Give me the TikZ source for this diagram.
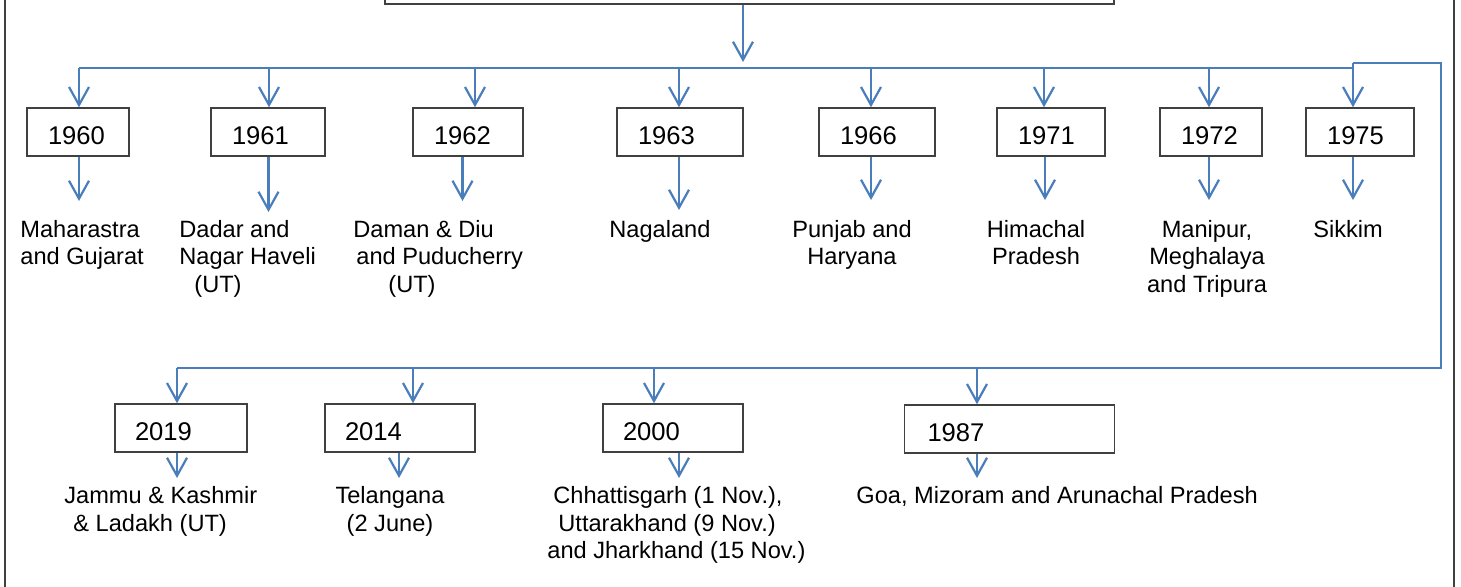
\documentclass[tikz,border=0pt]{standalone}
\usepackage{fontspec}
\setmainfont{Liberation Sans}
\usetikzlibrary{arrows.meta}
\definecolor{bluec}{HTML}{4A7EBB}
\definecolor{edgec}{HTML}{404040}
\begin{document}
\begin{tikzpicture}[x=0.5pt,y=-0.5pt,
  yearbox/.style={draw=edgec, line width=0.75pt, minimum height=24pt, inner xsep=10.5pt, inner ysep=0pt, align=left, text height=12.2pt, text depth=0pt, font=\fontsize{12.8pt}{15pt}\selectfont},
  lbl/.style={inner sep=0pt, font=\fontsize{11.8pt}{13.75pt}\selectfont},
  conn/.style={draw=bluec, line width=1.1pt},
  arr/.style={conn, -{Straight Barb[length=9pt,width=10pt]}}]
\useasboundingbox (0,0) rectangle (1461,587);
\clip (0,0) rectangle (1461,587);
% outer frame
\draw[edgec, line width=0.8pt] (5,-20) rectangle (1454,610);
% top box
\node[draw=edgec, line width=0.75pt, minimum width=364.5pt, minimum height=30pt, inner sep=0pt] (top) at (749.5,-26) {};
% top row year boxes
\node[yearbox,text width=30pt] (y1960) at (78,132) {1960};
\node[yearbox,text width=36pt] (y1961) at (268,132) {1961};
\node[yearbox,text width=34pt] (y1962) at (468,132) {1962};
\node[yearbox,text width=42pt] (y1963) at (680,132) {1963};
\node[yearbox,text width=37pt] (y1966) at (877,132) {1966};
\node[yearbox,text width=33pt] (y1971) at (1051,132) {1971};
\node[yearbox,text width=30pt] (y1972) at (1211,132) {1972};
\node[yearbox,text width=33pt] (y1975) at (1360,132) {1975};
% bottom row year boxes
\node[yearbox,text width=46pt,inner xsep=10pt] (y2019) at (181,428) {2019};
\node[yearbox,text width=55pt,inner xsep=10pt] (y2014) at (400,428) {2014};
\node[yearbox,text width=50pt,inner xsep=10pt] (y2000) at (673,428) {2000};
\node[yearbox,text width=82pt,inner xsep=11.5pt] (y1987) at (1009.5,429) {1987};
% labels top row
\node[lbl,anchor=north west,align=left] (l1960) at (20,217) {\rule{0pt}{10pt}Maharastra\\and Gujarat};
\node[lbl,anchor=north west,align=left] (l1961) at (179,217) {\rule{0pt}{10pt}Dadar and\\Nagar Haveli\\\hspace*{7.5pt}(UT)};
\node[lbl,anchor=north west,align=left] (l1962) at (353,217) {\rule{0pt}{10pt}Daman \& Diu\\\hspace*{1.5pt}and Puducherry\\\hspace*{17.5pt}(UT)};
\node[lbl,anchor=north west,align=left] (l1963) at (609,217) {\rule{0pt}{10pt}Nagaland};
\node[lbl,anchor=north,align=center] (l1966) at (852,217) {\rule{0pt}{10pt}Punjab and\\Haryana};
\node[lbl,anchor=north,align=center] (l1971) at (1036,217) {\rule{0pt}{10pt}Himachal\\Pradesh};
\node[lbl,anchor=north,align=center] (l1972) at (1207,217) {\rule{0pt}{10pt}Manipur,\\Meghalaya\\and Tripura};
\node[lbl,anchor=north west,align=left] (l1975) at (1313,217) {\rule{0pt}{10pt}Sikkim};
% labels bottom row
\node[lbl,anchor=north west,align=left] (l2019) at (64,483.5) {\rule{0pt}{10pt}Jammu \& Kashmir\\\hspace*{4.5pt}\& Ladakh (UT)};
\node[lbl,anchor=north,align=center] (l2014) at (390,483.5) {\rule{0pt}{10pt}Telangana\\(2 June)};
\node[lbl,anchor=north west,align=left] (l2000) at (547,483.5) {\rule{0pt}{10pt}\hspace*{3pt}Chhattisgarh (1 Nov.),\\\hspace*{5.5pt}Uttarakhand (9 Nov.)\\and Jharkhand (15 Nov.)};
\node[lbl,anchor=north west,align=left] (l1987) at (856,483.5) {\rule{0pt}{10pt}Goa, Mizoram and Arunachal Pradesh};
% main arrow
\coordinate (mainTip) at (743,62);
\draw[arr] (top.south -| mainTip) -- (mainTip);
% top bus
\coordinate (s1) at (79,68);
\coordinate (s2) at (269,68);
\coordinate (s3) at (475,68);
\coordinate (s4) at (679,68);
\coordinate (s5) at (871,68);
\coordinate (s6) at (1044,68);
\coordinate (s7) at (1209,68);
\coordinate (s8) at (1353,68);
\coordinate (r0) at (1353,63);
\coordinate (r1) at (1441,63);
\coordinate (r2) at (1441,368);
\coordinate (d1) at (177,368);
\coordinate (d2) at (413,368);
\coordinate (d3) at (654,368);
\coordinate (d4) at (977,368);
\draw[conn] (s1) -- (s8);
\draw[conn] (r0) -- (r1) -- (r2) -- (d1);
\draw[arr] (s1) -- (s1 |- y1960.north);
\draw[arr] (s2) -- (s2 |- y1961.north);
\draw[arr] (s3) -- (s3 |- y1962.north);
\draw[arr] (s4) -- (s4 |- y1963.north);
\draw[arr] (s5) -- (s5 |- y1966.north);
\draw[arr] (s6) -- (s6 |- y1971.north);
\draw[arr] (s7) -- (s7 |- y1972.north);
\draw[arr] (r0) -- (r0 |- y1975.north);
\draw[arr] (d1) -- (d1 |- y2019.north);
\draw[arr] (d2) -- (d2 |- y2014.north);
\draw[arr] (d3) -- (d3 |- y2000.north);
\draw[arr] (d4) -- (d4 |- y1987.north);
% lower arrows
\coordinate (t1960) at (79,201);
\coordinate (t1961) at (268.5,212);
\coordinate (t1962) at (462.5,201);
\coordinate (t1963) at (679,210);
\coordinate (t1966) at (871,200);
\coordinate (t1971) at (1045,200);
\coordinate (t1972) at (1209,200);
\coordinate (t1975) at (1353,200);
\coordinate (t2019) at (177,478);
\coordinate (t2014) at (399,478);
\coordinate (t2000) at (679,478);
\coordinate (t1987) at (977,478);
\draw[arr] (y1960.south -| t1960) -- (t1960);
\draw[arr] (y1961.south -| t1961) -- (t1961);
\draw[arr] (y1962.south -| t1962) -- (t1962);
\draw[arr] (y1963.south -| t1963) -- (t1963);
\draw[arr] (y1966.south -| t1966) -- (t1966);
\draw[arr] (y1971.south -| t1971) -- (t1971);
\draw[arr] (y1972.south -| t1972) -- (t1972);
\draw[arr] (y1975.south -| t1975) -- (t1975);
\draw[arr] (y2019.south -| t2019) -- (t2019);
\draw[arr] (y2014.south -| t2014) -- (t2014);
\draw[arr] (y2000.south -| t2000) -- (t2000);
\draw[arr] (y1987.south -| t1987) -- (t1987);
\end{tikzpicture}
\end{document}
